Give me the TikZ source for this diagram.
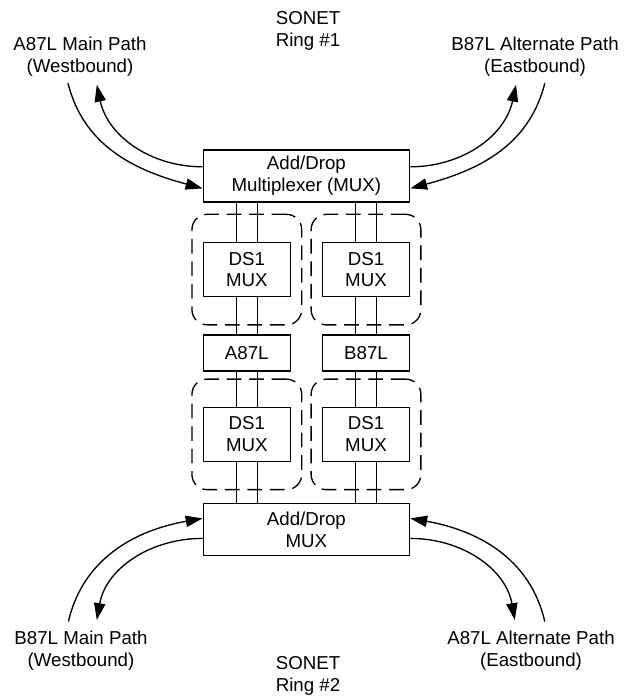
\documentclass[tikz,border=0pt]{standalone}
\usepackage{fontspec}
\setmainfont{Liberation Sans}
\usepackage{tikz}
\usetikzlibrary{arrows.meta,positioning,calc,fit}

\begin{document}
\begin{tikzpicture}[
        every node/.style={font=\fontsize{13.3}{15.6}\selectfont, align=center},
        line width=0.95pt,
        >={Triangle[length=12pt,width=8pt]},
        adm/.style={draw, minimum width=5.16cm, minimum height=1.3cm, inner sep=0pt},
        mux/.style={draw, minimum width=2.17cm, minimum height=1.35cm, inner sep=0pt},
        tag/.style={draw, minimum width=2.17cm, minimum height=0.9cm, inner sep=0pt},
        grp/.style={draw, dash pattern=on 10.5pt off 5.5pt, rounded corners=0.38cm, inner xsep=0.27cm, inner ysep=0.69cm},
    ]
        \useasboundingbox (0,0) rectangle (15.625,17.4);

        \node[adm] (adm1) at (7.66,13.0) {Add/Drop\\Multiplexer (MUX)};
        \node[mux] (ds1a) at (6.17,10.66) {DS1\\MUX};
        \node[mux] (ds1b) at (9.15,10.66) {DS1\\MUX};
        \node[tag] (a87l) at (6.17,8.575) {A87L};
        \node[tag] (b87l) at (9.15,8.575) {B87L};
        \node[mux] (ds1c) at (6.17,6.54) {DS1\\MUX};
        \node[mux] (ds1d) at (9.15,6.54) {DS1\\MUX};
        \node[adm] (adm2) at (7.66,4.16) {Add/Drop\\MUX};

        % dashed groups round the DS1 muxes
        \node[grp, fit=(ds1a)] (grpa) {};
        \node[grp, fit=(ds1b)] (grpb) {};
        \node[grp, fit=(ds1c)] (grpc) {};
        \node[grp, fit=(ds1d)] (grpd) {};

        % pairs of lines down each column
        \foreach \s in {-0.26,0.26} {
            \draw ($(ds1a.north |- adm1.south)+(\s,0)$) -- ($(ds1a.north)+(\s,0)$);
            \draw ($(ds1a.south)+(\s,0)$) -- ($(a87l.north)+(\s,0)$);
            \draw ($(a87l.south)+(\s,0)$) -- ($(ds1c.north)+(\s,0)$);
            \draw ($(ds1c.south)+(\s,0)$) -- ($(ds1c.south |- adm2.north)+(\s,0)$);
            \draw ($(ds1b.north |- adm1.south)+(\s,0)$) -- ($(ds1b.north)+(\s,0)$);
            \draw ($(ds1b.south)+(\s,0)$) -- ($(b87l.north)+(\s,0)$);
            \draw ($(b87l.south)+(\s,0)$) -- ($(ds1d.north)+(\s,0)$);
            \draw ($(ds1d.south)+(\s,0)$) -- ($(ds1d.south |- adm2.north)+(\s,0)$);
        }

        % Labels
        \node (ring1) at (7.7,16.625) {SONET\\Ring \#1};
        \node (westa) at (2.0,15.98) {A87L Main Path\\(Westbound)};
        \node (eastb) at (13.375,15.98) {B87L Alternate Path\\(Eastbound)};
        \node (westb) at (2.025,1.125) {B87L Main Path\\(Westbound)};
        \node (easta) at (13.275,1.125) {A87L Alternate Path\\(Eastbound)};
        \node (ring2) at (7.7,0.5) {SONET\\Ring \#2};

        % ring ends
        \coordinate (wa1) at (1.70,15.32);
        \coordinate (wa2) at (2.42,15.28);
        \coordinate (eb2) at (12.90,15.28);
        \coordinate (eb1) at (13.62,15.32);
        \coordinate (wb1) at (1.71,1.86);
        \coordinate (wb2) at (2.42,1.90);
        \coordinate (ea2) at (12.87,1.90);
        \coordinate (ea1) at (13.62,1.86);

        \draw[->] (wa1) to[out=-76,in=165] ([yshift=-0.31cm]adm1.west);
        \draw[->] ([yshift=0.23cm]adm1.west) to[out=180,in=-78] (wa2);
        \draw[->] ([yshift=0.23cm]adm1.east) to[out=0,in=-102] (eb2);
        \draw[->] (eb1) to[out=-104,in=15] ([yshift=-0.31cm]adm1.east);

        \draw[->] (wb1) to[out=77,in=190] ([yshift=0.28cm]adm2.west);
        \draw[->] ([yshift=-0.22cm]adm2.west) to[out=180,in=80] (wb2);
        \draw[->] ([yshift=-0.22cm]adm2.east) to[out=0,in=100] (ea2);
        \draw[->] (ea1) to[out=103,in=-10] ([yshift=0.28cm]adm2.east);
    \end{tikzpicture}
\end{document}
